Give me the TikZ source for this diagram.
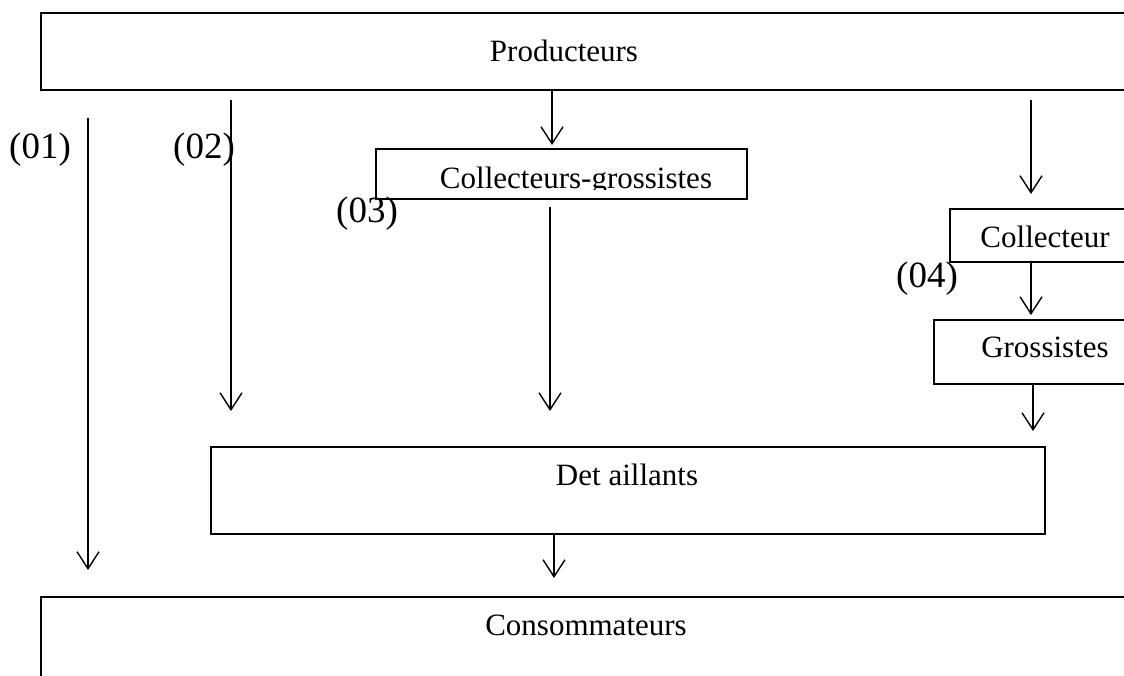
\documentclass[tikz,border=0pt]{standalone}
\usepackage{fontspec}
\setmainfont{Liberation Serif}
\usetikzlibrary{arrows.meta}
\begin{document}
\begin{tikzpicture}[x=1pt,y=-1pt,
  box/.style={draw,line width=1.9pt,anchor=north west,inner sep=0pt},
  arr/.style={line width=1.4pt,-{Straight Barb[length=17pt,width=22pt,line width=1.4pt]}},
  btxt/.style={anchor=base,inner sep=0pt,font=\fontsize{31}{37}\selectfont},
  lbl/.style={anchor=base,inner sep=0pt,font=\fontsize{37}{43}\selectfont}]
\useasboundingbox (0,0) rectangle (1124,675);
\clip (0,0) rectangle (1124,675);
% boxes
\node[box,minimum width=1100pt,minimum height=77pt] (prod) at (40,12) {};
\node[box,minimum width=371pt,minimum height=50pt] (cg) at (375,148) {};
\node[box,minimum width=200pt,minimum height=53pt] (coll) at (949,208) {};
\node[box,minimum width=210pt,minimum height=64pt] (gros) at (933,319) {};
\node[box,minimum width=834pt,minimum height=87pt] (det) at (210,446) {};
\node[box,minimum width=1100pt,minimum height=110pt] (cons) at (40,596) {};
% texts
\node[btxt] (tprod) at (564,61) {Producteurs};
\begin{scope}
\clip (375,140) rectangle (746,189);
\node[btxt] (tcg) at (576,188) {Collecteurs-grossistes};
\end{scope}
\node[btxt] (tcoll) at (1045,247) {Collecteur};
\node[btxt] (tgros) at (1045,357) {Grossistes};
\node[btxt] (tdet) at (627,485) {Det aillants};
\node[btxt] (tcons) at (586,635) {Consommateurs};
% labels
\node[lbl] (l1) at (40,158) {(01)};
\node[lbl] (l2) at (204,158) {(02)};
\node[lbl] (l3) at (367,222) {(03)};
\node[lbl] (l4) at (927,287) {(04)};
% free ends
\coordinate (a1s) at (88,118);
\coordinate (a1e) at (88,570);
\coordinate (a2s) at (231,100);
\coordinate (a2e) at (231,411);
\coordinate (cgin) at (552,145);
\coordinate (cgout) at (550,207);
\coordinate (cge) at (550,411);
\coordinate (cls) at (1031,100);
\coordinate (cle) at (1031,194);
\coordinate (gre) at (1031,315);
\coordinate (gde) at (1033,431);
\coordinate (cne) at (554,578);
% arrows
\draw[arr] (a1s) -- (a1e);
\draw[arr] (a2s) -- (a2e);
\draw[arr] (prod.south -| cgin) -- (cgin);
\draw[arr] (cgout) -- (cge);
\draw[arr] (cls) -- (cle);
\draw[arr] (coll.south -| gre) -- (gre);
\draw[arr] (gros.south -| gde) -- (gde);
\draw[arr] (det.south -| cne) -- (cne);
\end{tikzpicture}
\end{document}
